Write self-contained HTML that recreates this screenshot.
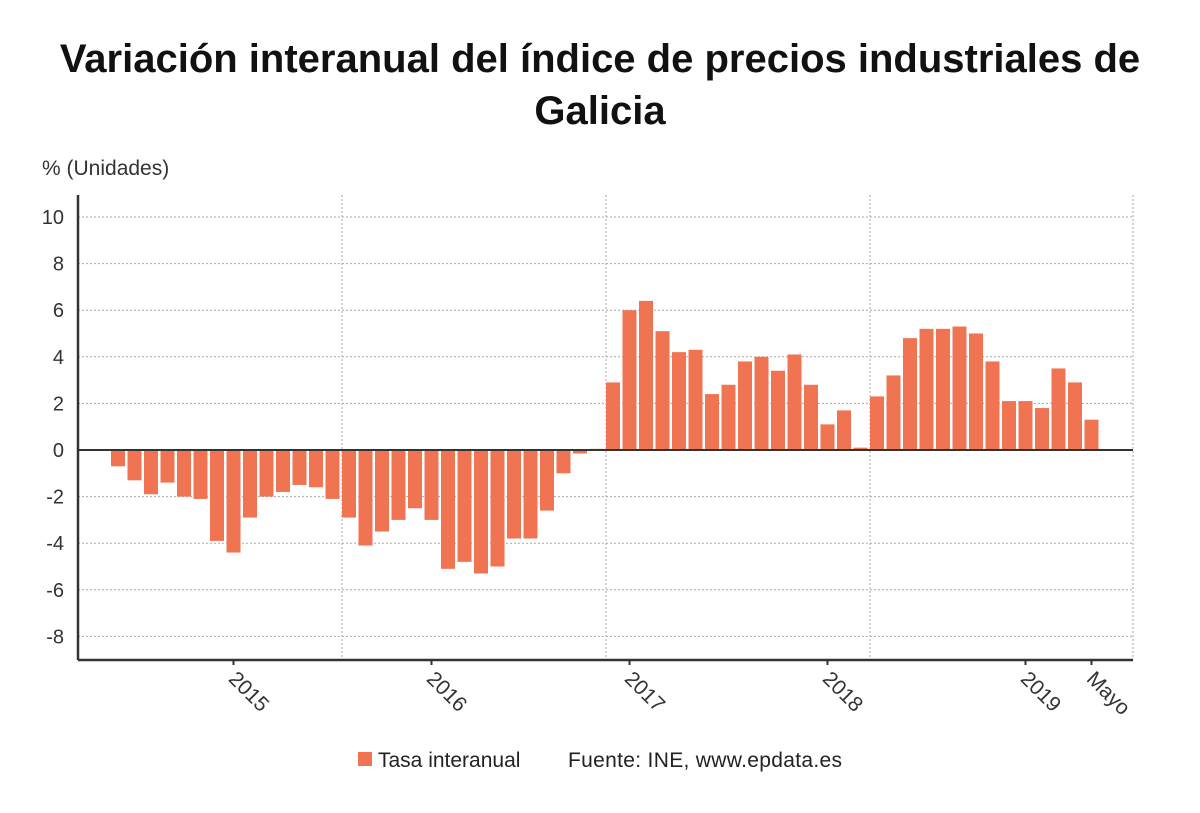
<!DOCTYPE html>
<html><head><meta charset="utf-8">
<style>
html,body{margin:0;padding:0;background:#fff;}
body{width:1200px;height:808px;overflow:hidden;font-family:"Liberation Sans","DejaVu Sans",sans-serif;}
</style></head>
<body>
<svg id="chart" width="1200" height="808" viewBox="0 0 1200 808" xmlns="http://www.w3.org/2000/svg" font-family="Liberation Sans, DejaVu Sans, sans-serif">
<text x="600" y="72" text-anchor="middle" font-size="40" font-weight="bold" fill="#111">Variación interanual del índice de precios industriales de</text>
<text x="600" y="124" text-anchor="middle" font-size="40" font-weight="bold" fill="#111">Galicia</text>
<text x="42" y="175" font-size="21" fill="#333">% (Unidades)</text>
<g id="grid"></g>
<g id="bars"></g>
<g id="axes"></g>
<g>
<rect x="358" y="752" width="14" height="14" fill="#f07352"/>
<text x="378" y="767" font-size="21" fill="#222">Tasa interanual</text>
<text x="568" y="767" font-size="21" fill="#222" textLength="274">Fuente: INE, www.epdata.es</text>
</g>
</svg>
<script>
const values2014 = [-0.7,-1.3,-1.9,-1.4,-2.0,-2.1,-3.9];
const values2015 = [-4.4,-2.9,-2.0,-1.8,-1.5,-1.6,-2.1,-2.9,-4.1,-3.5,-3.0,-2.5];
const values2016 = [-3.0,-5.1,-4.8,-5.3,-5.0,-3.8,-3.8,-2.6,-1.0,-0.15,0.05,2.9];
const values2017 = [6.0,6.4,5.1,4.2,4.3,2.4,2.8,3.8,4.0,3.4,4.1,2.8];
const values2018 = [1.1,1.7,0.1,2.3,3.2,4.8,5.2,5.2,5.3,5.0,3.8,2.1];
const values2019 = [2.1,1.8,3.5,2.9,1.3];
const yTicks = [10,8,6,4,2,0,-2,-4,-6,-8];
const xTickLabels = ["2015","2016","2017","2018","2019","Mayo"];
const xTickIndex = [7,19,31,43,55,59];

const values = [].concat(values2014,values2015,values2016,values2017,values2018,values2019);
const NS="http://www.w3.org/2000/svg";
const L=78,R=1133,T=195,B=660;
const y = v => 450 - v*23.3;
const x = i => 118 + i*16.5;
function mk(tag,attrs,parent){const e=document.createElementNS(NS,tag);for(const k in attrs)e.setAttribute(k,attrs[k]);parent.appendChild(e);return e;}
const grid=document.getElementById('grid'),bars=document.getElementById('bars'),axes=document.getElementById('axes');
yTicks.forEach(t=>{
  if(t!==0){const g=mk('line',{x1:L,x2:R,y1:y(t),y2:y(t),stroke:'#aaa','stroke-dasharray':'2,2'},grid);
  
  }
  const tx=mk('text',{x:64,y:y(t)+7,'text-anchor':'end','font-size':20,fill:'#333'},axes);
  tx.textContent=t;
  
  
});
[342,606,870,1133].forEach(px=>{
  const g=mk('line',{x1:px,x2:px,y1:T,y2:B,stroke:'#aaa','stroke-dasharray':'2,2'},grid);
  
  
});
values.forEach((v,i)=>{
  const r=mk('rect',{x:x(i)-7,y:Math.min(y(v),y(0)),width:14,height:Math.max(Math.abs(y(v)-y(0)),0.5),fill:'#f07352'},bars);
  
  
});
const zl=mk('line',{x1:L,x2:R,y1:y(0),y2:y(0),stroke:'#333','stroke-width':2},axes);


const ya=mk('line',{x1:L,x2:L,y1:T,y2:B,stroke:'#333','stroke-width':2.5},axes);


const xa=mk('line',{x1:L,x2:R,y1:B,y2:B,stroke:'#333','stroke-width':2.5},axes);


const clip=mk('clipPath',{id:'lblclip'},axes);mk('rect',{x:0,y:0,width:1128,height:808},clip);
xTickLabels.forEach((lab,k)=>{
  const px=x(xTickIndex[k]);
  const tk=mk('line',{x1:px,x2:px,y1:B,y2:B+5,stroke:'#333','stroke-width':2},axes);
  
  
  const g=mk('g',{'clip-path':'url(#lblclip)'},axes);
  const t=mk('text',{x:0,y:0,'font-size':21,fill:'#333',transform:`translate(${px-6},${B+20}) rotate(45)`},g);
  t.textContent=lab;
  
  
});
</script>
</body></html>
